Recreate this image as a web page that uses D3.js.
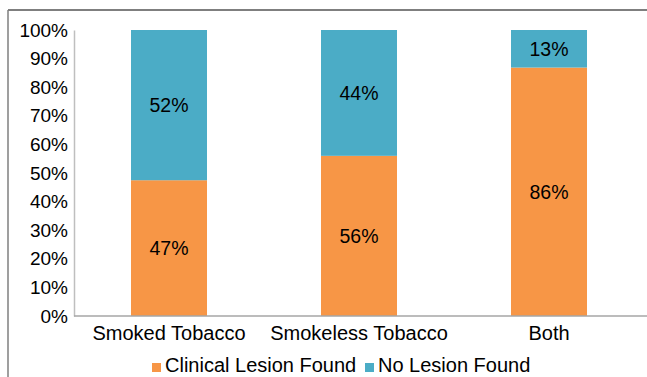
<!DOCTYPE html>
<html><head><meta charset="utf-8">
<script src="https://cdn.jsdelivr.net/npm/d3@7"></script>
<style>body{margin:0;background:#fff}svg{display:block}text{font-family:"Liberation Sans",Arial,sans-serif;fill:#000}</style>
</head><body><svg id="c" width="647" height="377"></svg>
<script>
const categories = ["Smoked Tobacco", "Smokeless Tobacco", "Both"];
const lesionFound = [47, 56, 86];
const noLesion = [52, 44, 13];
const seriesNames = ["Clinical Lesion Found", "No Lesion Found"];
const seriesColors = ["#f79646", "#4bacc6"];
const yTicks = [0, 10, 20, 30, 40, 50, 60, 70, 80, 90, 100];

const svg = d3.select("#c");
const x = d3.scaleBand().domain(categories).range([74, 644]).paddingInner(0.6).paddingOuter(0.3);
const y = d3.scaleLinear().domain([0, 100]).range([316, 30]);

// outer frame (top & left)
svg.append("line").attr("x1", 8).attr("x2", 647).attr("y1", 10).attr("y2", 10).attr("stroke", "#7f7f7f").attr("stroke-width", 2);
svg.append("line").attr("x1", 8).attr("x2", 8).attr("y1", 10).attr("y2", 377).attr("stroke", "#7f7f7f").attr("stroke-width", 1.5);

const rows = categories.map((c, i) => {
  const t = lesionFound[i] + noLesion[i];
  return {cat: c, a: lesionFound[i], b: noLesion[i], pa: lesionFound[i] / t * 100, pb: noLesion[i] / t * 100};
});
const stack = d3.stack().keys(["pa", "pb"])(rows);

stack.forEach((layer, si) => {
  svg.append("g").selectAll("rect").data(layer).join("rect")
    .attr("x", d => x(d.data.cat)).attr("width", x.bandwidth())
    .attr("y", d => y(d[1])).attr("height", d => y(d[0]) - y(d[1]))
    .attr("fill", seriesColors[si]);
  svg.append("g").selectAll("text").data(layer).join("text")
    .attr("x", d => x(d.data.cat) + x.bandwidth() / 2)
    .attr("y", d => y((d[0] + d[1]) / 2))
    .attr("text-anchor", "middle").attr("dominant-baseline", "central")
    .style("font-size", "19.5px")
    .text(d => (si === 0 ? d.data.a : d.data.b) + "%");
});

// y axis
const ya = svg.append("g").attr("transform", "translate(74,0)")
  .call(d3.axisLeft(y).tickValues(yTicks).tickSize(0).tickPadding(6).tickFormat(d => d + "%"));
ya.select(".domain").attr("stroke", "#bfbfbf").attr("stroke-width", 1.5);
ya.selectAll("text").style("font-size", "19px").style("font-family", "Liberation Sans, Arial, sans-serif").attr("fill", "#000");

// x axis
const xa = svg.append("g").attr("transform", "translate(0,316)")
  .call(d3.axisBottom(x).tickSize(0).tickPadding(10));
xa.select(".domain").remove();
svg.append("line").attr("x1", 74).attr("x2", 647).attr("y1", 316).attr("y2", 316).attr("stroke", "#a6a6a6").attr("stroke-width", 1.5);
xa.selectAll("text").style("font-size", "20px").style("font-family", "Liberation Sans, Arial, sans-serif").attr("fill", "#000");

// legend
const legX = [152, 365];
const lg = svg.append("g");
seriesNames.forEach((n, i) => {
  lg.append("rect").attr("x", legX[i]).attr("y", 363).attr("width", 9).attr("height", 9).attr("fill", seriesColors[i]);
  lg.append("text").attr("x", legX[i] + 13).attr("y", 372).style("font-size", "20px").text(n);
});
</script></body></html>
